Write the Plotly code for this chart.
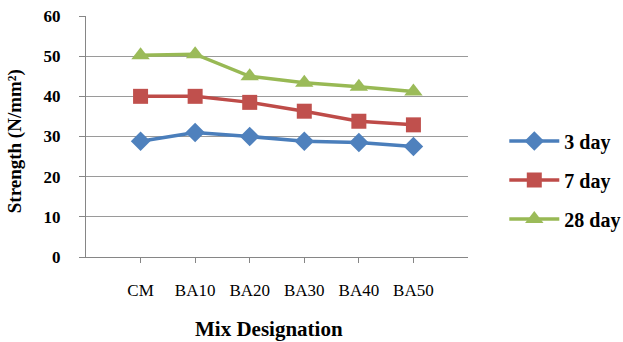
import plotly.graph_objects as go

# Compressive strength of mixes at different curing ages
mixes = ["CM", "BA10", "BA20", "BA30", "BA40", "BA50"]
day3 = [28.8, 31.0, 30.0, 28.8, 28.5, 27.5]
day7 = [40.0, 40.0, 38.5, 36.3, 33.8, 32.9]
day28 = [50.2, 50.5, 45.0, 43.4, 42.4, 41.2]
y_ticks = [0, 10, 20, 30, 40, 50, 60]

series = [
    ("3 day", day3, "#4A7EBB", "#4F81BD", "diamond", 15),
    ("7 day", day7, "#BE4B48", "#C0504D", "square", 15),
    ("28 day", day28, "#98B954", "#9BBB59", "triangle-up", 16),
]

serif = "Liberation Serif"

fig = go.Figure()
for name, vals, lc, mc, sym, sz in series:
    fig.add_trace(go.Scatter(
        x=mixes, y=vals, name=name, mode="lines+markers",
        line=dict(color=lc, width=3.5),
        marker=dict(symbol=sym, size=sz, color=mc, line=dict(width=0)),
        legendgroup=name,
    ))

fig.update_layout(
    width=623, height=342,
    margin=dict(l=86, r=155, t=16, b=85, autoexpand=False),
    paper_bgcolor="white", plot_bgcolor="white",
    showlegend=True,
    legend=dict(
        x=1.095, y=0.32, xanchor="left", yanchor="middle",
        font=dict(family=serif, size=20, color="black", weight="bold"),
        itemwidth=50, tracegroupgap=10,
        bgcolor="rgba(0,0,0,0)",
    ),
    xaxis=dict(
        type="category", range=[-1, 6], automargin=False,
        showgrid=False, showline=True, linecolor="#868686", linewidth=1,
        ticks="outside", ticklen=5, tickcolor="#868686",
        ticklabelstandoff=13,
        tickfont=dict(family=serif, size=17, color="black"),
        zeroline=False,
    ),
    yaxis=dict(
        range=[0, 60], tickvals=y_ticks, automargin=False,
        showgrid=True, gridcolor="#9a9a9a", gridwidth=1,
        showline=True, linecolor="#868686", linewidth=1,
        ticks="outside", ticklen=6, tickcolor="#868686",
        ticklabelstandoff=15,
        tickfont=dict(family=serif, size=17, color="black", weight="bold"),
        zeroline=False,
    ),
    annotations=[
        dict(text="Strength (N/mm²)", textangle=-90, xref="paper", yref="paper",
             x=-0.186, y=0.48, xanchor="center", yanchor="middle", showarrow=False,
             font=dict(family=serif, size=19, color="black", weight="bold")),
        dict(text="Mix Designation", xref="paper", yref="paper",
             x=0.479, y=-0.30, xanchor="center", yanchor="middle", showarrow=False,
             font=dict(family=serif, size=21, color="black", weight="bold")),
    ],
)

fig.write_html("out.html")
